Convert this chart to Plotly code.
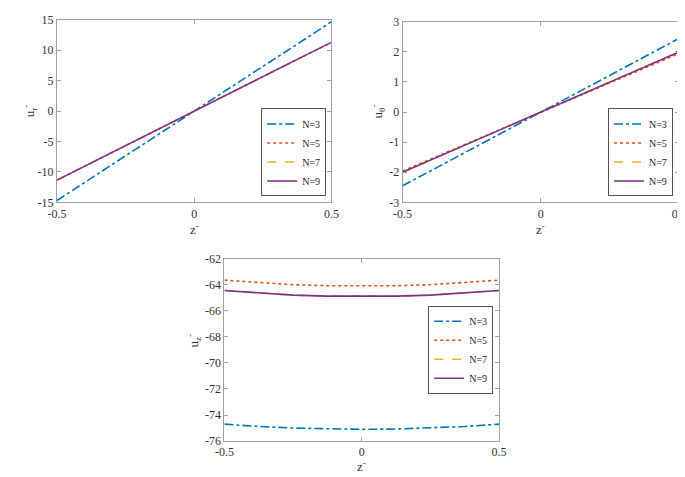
import plotly.graph_objects as go

# sampled z positions
z = [-0.5, -0.375, -0.25, -0.125, 0.0, 0.125, 0.25, 0.375, 0.5]

# u_r (top left)
ur_n3 = [-14.7, -11.0, -7.35, -3.67, 0.0, 3.67, 7.35, 11.0, 14.7]
ur_n5 = [-11.35, -8.5, -5.65, -2.82, 0.0, 2.82, 5.65, 8.5, 11.3]
ur_n7 = [-11.35, -8.5, -5.65, -2.82, 0.0, 2.82, 5.65, 8.5, 11.3]
ur_n9 = [-11.35, -8.5, -5.65, -2.82, 0.0, 2.82, 5.65, 8.5, 11.3]

# u_theta (top right)
ut_n3 = [-2.45, -1.84, -1.22, -0.61, 0.0, 0.61, 1.22, 1.84, 2.45]
ut_n5 = [-1.96, -1.47, -0.98, -0.49, 0.0, 0.49, 0.98, 1.46, 1.95]
ut_n7 = [-2.0, -1.5, -1.0, -0.5, 0.0, 0.5, 1.0, 1.5, 2.0]
ut_n9 = [-2.0, -1.5, -1.0, -0.5, 0.0, 0.5, 1.0, 1.5, 2.0]

# u_z (bottom)
uz_n3 = [-74.7, -74.88, -75.0, -75.07, -75.1, -75.07, -75.0, -74.88, -74.7]
uz_n5 = [-63.65, -63.85, -64.0, -64.08, -64.1, -64.08, -64.0, -63.85, -63.65]
uz_n7 = [-64.45, -64.65, -64.8, -64.88, -64.9, -64.88, -64.8, -64.65, -64.45]
uz_n9 = [-64.45, -64.65, -64.8, -64.88, -64.9, -64.88, -64.8, -64.65, -64.45]

names = ['N=3', 'N=5', 'N=7', 'N=9']
colors = ['#0072BD', '#D95319', '#EDB120', '#7E2F8E']
dashes = ['dashdot', 'dot', 'dash', 'solid']

# tick labels (hyphen minus, as in the original)
x_ticks = [-0.5, 0, 0.5]
x_labels = ['-0.5', '0', '0.5']
ur_ticks = [-15, -10, -5, 0, 5, 10, 15]
ur_labels = ['-15', '-10', '-5', '0', '5', '10', '15']
ut_ticks = [-3, -2, -1, 0, 1, 2, 3]
ut_labels = ['-3', '-2', '-1', '0', '1', '2', '3']
uz_ticks = [-76, -74, -72, -70, -68, -66, -64, -62]
uz_labels = ['-76', '-74', '-72', '-70', '-68', '-66', '-64', '-62']

panels = [
    ([ur_n3, ur_n5, ur_n7, ur_n9], 'x', 'y', 'legend'),
    ([ut_n3, ut_n5, ut_n7, ut_n9], 'x2', 'y2', 'legend2'),
    ([uz_n3, uz_n5, uz_n7, uz_n9], 'x3', 'y3', 'legend3'),
]

fig = go.Figure()
for series, xa, ya, lg in panels:
    for vals, name, c, d in zip(series, names, colors, dashes):
        fig.add_trace(go.Scatter(
            x=z, y=vals, mode='lines', name=name,
            line=dict(color=c, dash=d, width=1.6),
            xaxis=xa, yaxis=ya, legend=lg,
        ))

SERIF = 'Liberation Serif'
font = dict(family=SERIF, size=12, color='#333333')
tfont = dict(family=SERIF, size=13, color='#333333')

def xax(domain, anchor):
    return dict(domain=domain, anchor=anchor, range=[-0.5, 0.5],
                tickvals=x_ticks, ticktext=x_labels,
                showline=True, linecolor='#a0a0a0', linewidth=1, mirror='ticks',
                ticks='inside', ticklen=4, tickcolor='#a0a0a0',
                showgrid=False, zeroline=False, ticklabeloverflow='allow',
                tickfont=font)

def yax(domain, anchor, rng, tv, tt):
    return dict(domain=domain, anchor=anchor, range=rng,
                tickvals=tv, ticktext=tt,
                showline=True, linecolor='#a0a0a0', linewidth=1, mirror='ticks',
                ticks='inside', ticklen=4, tickcolor='#a0a0a0',
                showgrid=False, zeroline=False, ticklabeloverflow='allow',
                tickfont=font)

def leg(xr, yc, anchor):
    return dict(x=xr, y=yc, xanchor='right', yanchor=anchor, xref='paper', yref='paper',
                bgcolor='white', bordercolor='#555555', borderwidth=1,
                font=dict(family=SERIF, size=10, color='#222222'),
                itemwidth=30, tracegroupgap=0)

# axis titles placed as paper annotations (x, y in paper fractions)
def title(text, x, y, angle=0):
    return dict(text=text, x=x, y=y, xref='paper', yref='paper', showarrow=False,
                textangle=angle, font=tfont, xanchor='center', yanchor='middle')

annotations = [
    title('z<sup>-</sup>', 0.264, 0.537),
    title('z<sup>-</sup>', 0.784, 0.537),
    title('z<sup>-</sup>', 0.515, 0.026),
    title('u<sub>r</sub><sup>-</sup>', 0.018, 0.792, -90),
    title('u<sub>θ</sub><sup>-</sup>', 0.540, 0.792, -90),
    title('u<sub>z</sub><sup>-</sup>', 0.264, 0.297, -90),
]

fig.update_layout(
    width=685, height=477,
    margin=dict(l=0, r=0, t=0, b=0),
    paper_bgcolor='white', plot_bgcolor='white',
    font=dict(family=SERIF),
    xaxis=xax([0.0584, 0.470], 'y'),
    yaxis=yax([0.5954, 0.9895], 'x', [-15, 15], ur_ticks, ur_labels),
    xaxis2=xax([0.5766, 0.9912], 'y2'),
    yaxis2=yax([0.5954, 0.9853], 'x2', [-3, 3], ut_ticks, ut_labels),
    xaxis3=xax([0.3095, 0.7212], 'y3'),
    yaxis3=yax([0.0797, 0.4738], 'x3', [-76, -62], uz_ticks, uz_labels),
    legend=leg(0.462, 0.6080, 'bottom'),
    legend2=leg(0.982, 0.6080, 'bottom'),
    legend3=leg(0.7124, 0.277, 'middle'),
    annotations=annotations,
)

fig.write_html("out.html")
